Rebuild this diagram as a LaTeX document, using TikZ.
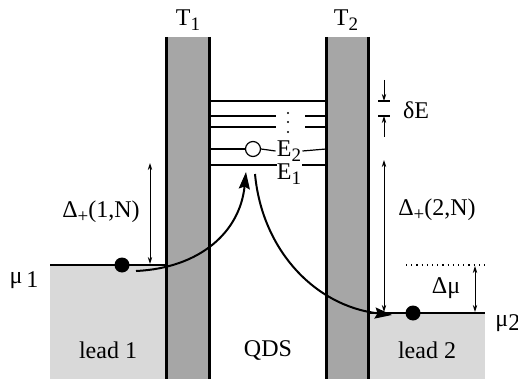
\documentclass[tikz,border=0pt]{standalone}
\usepackage{fontspec}
\setmainfont{Liberation Serif}
\usetikzlibrary{arrows.meta}
\definecolor{barrierfill}{HTML}{A6A6A6}
\definecolor{leadfill}{HTML}{D9D9D9}
\newcommand\lowsub[1]{\raisebox{-0.45ex}{\fontsize{9.5}{11}\selectfont #1}}
\begin{document}
\begin{tikzpicture}[x=0.5pt,y=-0.5pt,
  lbl/.style={font=\fontsize{12}{14}\selectfont, inner sep=0.5pt},
  edge/.style={line width=1.5pt},
  level/.style={line width=0.6pt},
  thinarrow/.style={line width=0.45pt,{Stealth[length=3.5pt,width=2.2pt]}-{Stealth[length=3.5pt,width=2.2pt]}},
  thinend/.style={line width=0.45pt,-{Stealth[length=3.5pt,width=2.2pt]}},
  hop/.style={line width=1pt,-{Stealth[length=8.5pt,width=5.5pt,inset=1.2pt]}},
  electron/.style={circle,fill=black,inner sep=0pt,minimum size=7.5pt},
  hole/.style={circle,draw=black,fill=white,line width=0.6pt,inner sep=0pt,minimum size=7.5pt}]
\useasboundingbox (0,0) rectangle (518,379);
% leads
\fill[leadfill] (50,265) rectangle (166,379);
\draw[level] (50,265) -- (166,265);
\fill[leadfill] (368,313) rectangle (485,379);
\draw[level] (368,313) -- (485,313);
% barriers
\fill[barrierfill] (166,37) rectangle (209,379);
\draw[edge] (166,37) -- (166,379);
\draw[edge] (209,37) -- (209,379);
\fill[barrierfill] (326,37) rectangle (368,379);
\draw[edge] (326,37) -- (326,379);
\draw[edge] (368,37) -- (368,379);
% levels
\draw[level] (209,101) -- (326,101);
\draw[level] (209,116) -- (276,116);
\draw[level] (305,116) -- (326,116);
\draw[level] (209,127) -- (276,127);
\draw[level] (305,127) -- (326,127);
\fill (288,113) circle[radius=0.6pt];
\fill (288,122) circle[radius=0.6pt];
\fill (288,132) circle[radius=0.6pt];
\node[hole] (h) at (253,149) {};
\node[lbl] (E2) at (289,151) {E\lowsub{2}};
\draw[level] (209,149) -- (h.west);
\draw[level] (h.east) -- (E2.west);
\draw[level] (E2.east) -- (326,149);
\node[lbl] (E1) at (289,174) {E\lowsub{1}};
\draw[line width=1pt] (209,165) -- (277,165);
\draw[line width=1pt] (302,165) -- (326,165);
% labels
\node[lbl] (T1) at (188,20) {T\lowsub{1}};
\node[lbl] (T2) at (346,20) {T\lowsub{2}};
\node[lbl] (dE) at (416,110) {δE};
\node[lbl] (D1) at (101,212) {Δ\lowsub{+}(1,N)};
\node[lbl] (D2) at (437,210) {Δ\lowsub{+}(2,N)};
\node[lbl] (dmu) at (446,288) {Δμ};
\node[lbl] (mu1) at (24,280) {μ\,\raisebox{-0.4ex}{1}};
\node[lbl,anchor=west] (mu2) at (494,323) {μ\raisebox{-0.4ex}{2}};
\node[lbl] (L1) at (108,350) {lead 1};
\node[lbl] (Q) at (268,350) {QDS};
\node[lbl] (L2) at (427,350) {lead 2};
% delta E marks
\coordinate (dEa) at (384,80);
\coordinate (dEb) at (384,101);
\coordinate (dEc) at (384,116);
\coordinate (dEd) at (384,137);
\draw[level] (378,101) -- (390,101);
\draw[level] (378,116) -- (390,116);
\draw[thinend] (dEa) -- (dEb);
\draw[thinend] (dEd) -- (dEc);
% Delta+ arrows
\coordinate (a1t) at (150,163);
\coordinate (a1b) at (150,264);
\draw[thinarrow] (a1t) -- (a1b);
\coordinate (a2t) at (384,160);
\coordinate (a2b) at (384,312);
\draw[thinarrow] (a2t) -- (a2b);
% Delta mu
\draw[level,dotted] (406,265) -- (485,265);
\coordinate (dmt) at (475,266);
\coordinate (dmb) at (475,312);
\draw[thinarrow] (dmt) -- (dmb);
% electrons
\node[electron] (e1) at (122,265) {};
\node[electron] (e2) at (413,313) {};
\coordinate (s1) at (136,271);
\coordinate (t1) at (246,172);
\draw[hop] (s1) .. controls (200,268) and (240,232) .. (t1);
\coordinate (s2) at (255,174);
\coordinate (t2) at (392,315);
\draw[hop] (s2) .. controls (262,250) and (315,306) .. (t2);
\end{tikzpicture}
\end{document}
